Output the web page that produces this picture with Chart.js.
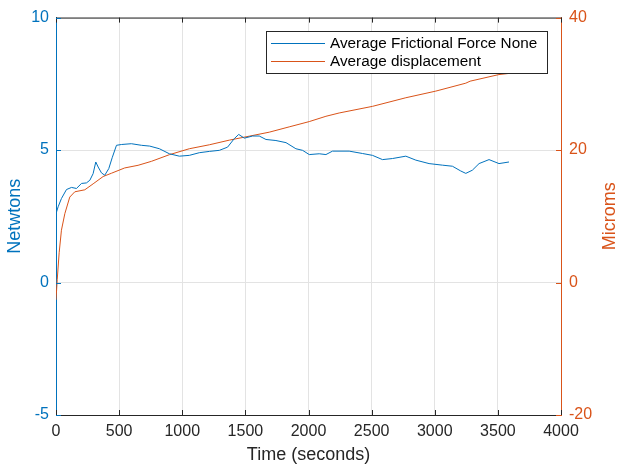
<!DOCTYPE html>
<html>
<head>
<meta charset="utf-8">
<title>Frictional force and displacement</title>
<script src="https://cdn.jsdelivr.net/npm/chart.js@4.4.1/dist/chart.umd.min.js"></script>
<style>
  html, body { margin: 0; padding: 0; background: #fff; }
  #wrap { width: 618px; height: 466px; position: relative; }
</style>
</head>
<body>
<div id="wrap"><canvas id="forcechart" width="618" height="466"></canvas></div>
<script>
// data
const forceTime = [0, 17, 43, 83, 123, 162, 202, 241, 268, 294, 315, 334, 360, 386, 418, 445, 479, 518, 597, 677, 742, 819, 898, 977, 1056, 1135, 1215, 1294, 1359, 1412, 1447, 1492, 1557, 1610, 1663, 1742, 1822, 1900, 1953, 2006, 2085, 2138, 2190, 2322, 2428, 2507, 2586, 2665, 2771, 2850, 2955, 3061, 3140, 3206, 3246, 3298, 3351, 3430, 3509, 3588];
const forceValue = [2.6, 2.86, 3.17, 3.51, 3.59, 3.55, 3.74, 3.76, 3.86, 4.11, 4.55, 4.36, 4.14, 4.05, 4.30, 4.71, 5.18, 5.21, 5.24, 5.18, 5.15, 5.05, 4.86, 4.77, 4.80, 4.90, 4.95, 4.99, 5.11, 5.43, 5.59, 5.45, 5.53, 5.53, 5.40, 5.36, 5.28, 5.05, 4.99, 4.83, 4.86, 4.83, 4.96, 4.96, 4.87, 4.80, 4.64, 4.68, 4.77, 4.62, 4.49, 4.43, 4.39, 4.21, 4.12, 4.24, 4.49, 4.64, 4.49, 4.55];

const dispTime = [0, 10, 25, 43, 70, 109, 149, 228, 294, 373, 439, 544, 650, 756, 898, 1056, 1215, 1373, 1531, 1689, 1847, 2006, 2138, 2243, 2507, 2771, 3008, 3246, 3280, 3509, 3600];
const dispValue = [-2.6, 0.5, 4.5, 7.9, 10.4, 12.9, 13.7, 14.0, 14.9, 16.0, 16.5, 17.3, 17.7, 18.3, 19.3, 20.2, 20.8, 21.5, 22.1, 22.7, 23.5, 24.3, 25.1, 25.6, 26.6, 27.9, 28.9, 30.1, 30.4, 31.4, 31.6];

const xTicks = [0, 500, 1000, 1500, 2000, 2500, 3000, 3500, 4000];
const leftTicks = [-5, 0, 5, 10];
const rightTicks = [-20, 0, 20, 40];

const seriesNames = ["Average Frictional Force None", "Average displacement"];

const blue = "#0072BD";
const orange = "#D95319";
const axisGray = "#262626";
const gridGray = "#e3e3e3";
const fontFamily = "'Liberation Sans', Arial, sans-serif";
const seriesColors = [blue, orange];

function toPoints(xs, ys) {
  let pts = [];
  for (let i = 0; i < xs.length; i++) {
    pts.push({ x: xs[i], y: ys[i] });
  }
  return pts;
}

// matlab style extras: inward ticks, top edge, legend box, right label
const matlabBits = {
  id: "matlabBits",
  afterDraw(chart) {
    const ctx = chart.ctx;
    const area = chart.chartArea;
    const sx = chart.scales.x;
    const sy = chart.scales.y;
    const sy1 = chart.scales.y1;

    ctx.save();
    ctx.lineWidth = 1;

    // top edge
    ctx.strokeStyle = axisGray;
    ctx.beginPath();
    ctx.moveTo(area.left, area.top + 0.5);
    ctx.lineTo(area.right, area.top + 0.5);
    ctx.stroke();

    // x ticks, bottom and top, pointing in
    xTicks.forEach(function (v) {
      const px = Math.round(sx.getPixelForValue(v)) + 0.5;
      ctx.beginPath();
      ctx.moveTo(px, area.bottom);
      ctx.lineTo(px, area.bottom - 5);
      ctx.moveTo(px, area.top);
      ctx.lineTo(px, area.top + 5);
      ctx.stroke();
    });

    ctx.strokeStyle = blue;
    leftTicks.forEach(function (v) {
      const py = Math.round(sy.getPixelForValue(v)) + 0.5;
      ctx.beginPath();
      ctx.moveTo(area.left, py);
      ctx.lineTo(area.left + 5, py);
      ctx.stroke();
    });

    ctx.strokeStyle = orange;
    rightTicks.forEach(function (v) {
      const py = Math.round(sy1.getPixelForValue(v)) + 0.5;
      ctx.beginPath();
      ctx.moveTo(area.right, py);
      ctx.lineTo(area.right - 5, py);
      ctx.stroke();
    });

    // right axis title, reads bottom to top
    ctx.fillStyle = orange;
    ctx.font = "18px " + fontFamily;
    ctx.textAlign = "center";
    ctx.textBaseline = "middle";
    ctx.translate(610, (area.top + area.bottom) / 2);
    ctx.rotate(-Math.PI / 2);
    ctx.fillText("Microms", 0, 0);
    ctx.restore();

    // legend
    ctx.save();
    const lx = 266.5, ly = 31.5, lw = 281, lh = 42;
    ctx.fillStyle = "#fff";
    ctx.fillRect(lx, ly, lw, lh);
    ctx.strokeStyle = axisGray;
    ctx.lineWidth = 1;
    ctx.strokeRect(lx, ly, lw, lh);
    ctx.font = "15.3px " + fontFamily;
    ctx.textAlign = "left";
    ctx.textBaseline = "middle";
    const rows = [43.5, 61.5];
    for (let i = 0; i < seriesNames.length; i++) {
      ctx.strokeStyle = seriesColors[i];
      ctx.beginPath();
      ctx.moveTo(271, rows[i]);
      ctx.lineTo(325, rows[i]);
      ctx.stroke();
      ctx.fillStyle = "#000";
      ctx.fillText(seriesNames[i], 330, rows[i] + 0.5);
    }
    ctx.restore();
  }
};

document.addEventListener("DOMContentLoaded", function () {
  const ctx = document.getElementById("forcechart").getContext("2d");

  new Chart(ctx, {
    type: "line",
    data: {
      datasets: [
        {
          label: seriesNames[0],
          data: toPoints(forceTime, forceValue),
          borderColor: blue,
          borderWidth: 1,
          pointRadius: 0,
          tension: 0,
          yAxisID: "y"
        },
        {
          label: seriesNames[1],
          data: toPoints(dispTime, dispValue),
          borderColor: orange,
          borderWidth: 1,
          pointRadius: 0,
          tension: 0,
          yAxisID: "y1"
        }
      ]
    },
    options: {
      responsive: false,
      animation: false,
      layout: { padding: { top: 16, left: 0, right: 0, bottom: 0 } },
      plugins: {
        legend: { display: false },
        tooltip: { enabled: false }
      },
      scales: {
        x: {
          type: "linear",
          min: 0,
          max: 4000,
          afterFit: function (s) { s.height = 51; },
          afterBuildTicks: function (s) { s.ticks = xTicks.map(function (v) { return { value: v }; }); },
          grid: { color: gridGray, drawTicks: false },
          border: { color: axisGray },
          ticks: {
            color: axisGray,
            padding: 7,
            maxRotation: 0,
            font: { family: fontFamily, size: 16 },
            callback: function (v) { return String(v); }
          },
          title: { display: true, text: "Time (seconds)", color: axisGray, padding: { top: 0, bottom: 0 }, font: { family: fontFamily, size: 18 } }
        },
        y: {
          position: "left",
          min: -5,
          max: 10,
          afterFit: function (s) { s.width = 56; },
          afterBuildTicks: function (s) { s.ticks = leftTicks.map(function (v) { return { value: v }; }); },
          grid: { color: gridGray, drawTicks: false },
          border: { color: blue },
          ticks: { color: blue, padding: 7, font: { family: fontFamily, size: 16 } },
          title: { display: true, text: "Netwtons", color: blue, padding: { top: 4, bottom: 0 }, font: { family: fontFamily, size: 18 } }
        },
        y1: {
          position: "right",
          min: -20,
          max: 40,
          afterFit: function (s) { s.width = 57; },
          afterBuildTicks: function (s) { s.ticks = rightTicks.map(function (v) { return { value: v }; }); },
          grid: { display: false, drawTicks: false },
          border: { color: orange },
          ticks: { color: orange, padding: 8, font: { family: fontFamily, size: 16 } }
        }
      }
    },
    plugins: [matlabBits]
  });
});
</script>
</body>
</html>
